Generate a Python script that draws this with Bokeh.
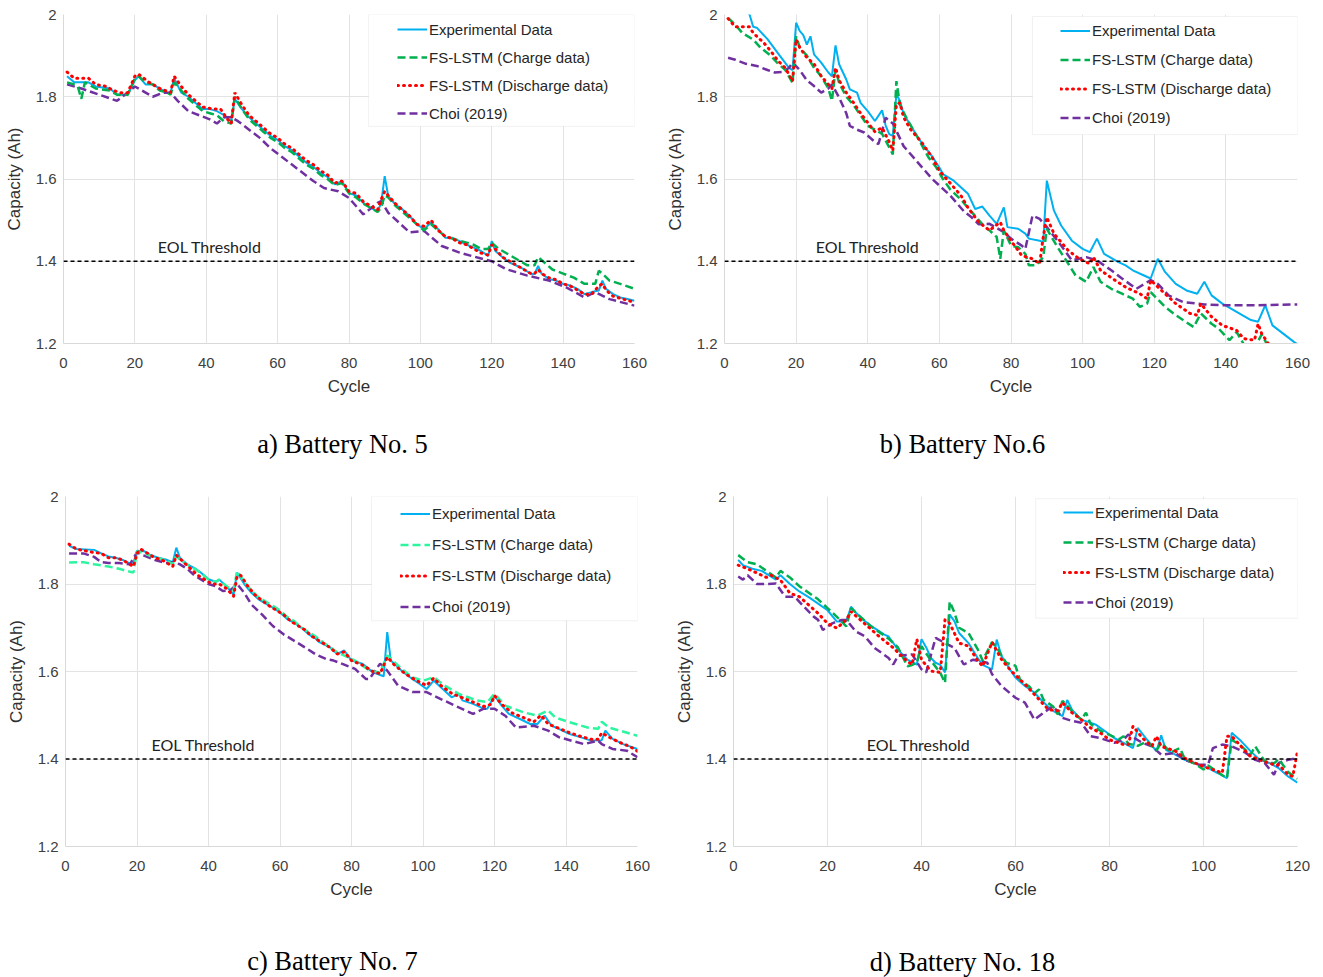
from bokeh.plotting import figure
from bokeh.models import (Span, Label, Legend, LegendItem, BoxAnnotation,
                          FixedTicker, NumeralTickFormatter, Range1d)
from bokeh.layouts import column, row
from bokeh.embed import file_html
from bokeh.resources import INLINE

# ---------------- data (cycle, capacity Ah) ----------------
EOL_THRESHOLD = 1.4
Y_TICKS = [1.2, 1.4, 1.6, 1.8, 2.0]
X_TICKS_160 = [0, 20, 40, 60, 80, 100, 120, 140, 160]
X_TICKS_120 = [0, 20, 40, 60, 80, 100, 120]
LEGEND_LABELS = ["Experimental Data", "FS-LSTM (Charge data)",
                 "FS-LSTM (Discharge data)", "Choi (2019)"]
CAPTIONS = ["a) Battery No. 5", "b) Battery No.6", "c) Battery No. 7", "d) Battery No. 18"]

# Battery 5
B5_EXP = [(1,1.85),(3,1.835),(7,1.835),(9,1.825),(13,1.82),(15,1.805),(18,1.805),(20,1.84),(21,1.85),(23,1.83),
          (25,1.83),(27,1.82),(29,1.81),(30,1.81),(31,1.845),(33,1.81),(35,1.80),(37,1.785),(39,1.77),(41,1.77),
          (43,1.765),(45,1.755),(47,1.74),(48,1.795),(50,1.77),(52,1.75),(54,1.735),(56,1.72),(58,1.705),(60,1.695),
          (62,1.68),(64,1.67),(66,1.655),(68,1.64),(70,1.63),(72,1.615),(74,1.605),(76,1.587),(78,1.595),(80,1.566),
          (82,1.56),(84,1.542),(86,1.53),(88,1.522),(89,1.54),(90,1.607),(91,1.558),(93,1.538),(95,1.526),(97,1.51),
          (99,1.49),(101,1.478),(103,1.494),(105,1.478),(107,1.457),(109,1.457),(111,1.449),(113,1.44),(115,1.433),(117,1.425),
          (119,1.413),(120,1.449),(121,1.425),(123,1.41),(125,1.397),(127,1.389),(129,1.381),(131,1.369),(132,1.369),(133,1.389),
          (134,1.369),(136,1.357),(138,1.353),(140,1.345),(142,1.341),(144,1.333),(146,1.32),(148,1.325),(150,1.329),(151,1.353),
          (152,1.333),(154,1.32),(156,1.312),(158,1.308),(160,1.304)]
B5_CHG = [(1,1.835),(3,1.83),(4,1.825),(5,1.795),(6,1.835),(9,1.82),(13,1.815),(15,1.805),(18,1.805),(20,1.845),
          (21,1.85),(23,1.835),(25,1.83),(27,1.815),(29,1.81),(30,1.805),(31,1.835),(33,1.815),(35,1.795),(37,1.78),
          (39,1.765),(41,1.76),(43,1.755),(45,1.74),(47,1.735),(48,1.80),(50,1.77),(52,1.745),(54,1.73),(56,1.715),
          (58,1.70),(60,1.69),(62,1.675),(64,1.665),(66,1.65),(68,1.635),(70,1.625),(72,1.61),(74,1.60),(76,1.585),
          (78,1.59),(80,1.565),(82,1.555),(84,1.54),(86,1.53),(88,1.52),(89,1.53),(90,1.56),(91,1.555),(93,1.535),
          (95,1.52),(97,1.505),(99,1.49),(101,1.475),(103,1.49),(105,1.475),(107,1.46),(109,1.455),(111,1.45),(113,1.445),
          (115,1.44),(117,1.43),(119,1.43),(120,1.445),(122,1.43),(125,1.415),(128,1.40),(130,1.39),(132,1.39),(133,1.41),
          (135,1.395),(137,1.38),(140,1.37),(143,1.36),(146,1.345),(149,1.345),(150,1.377),(151,1.37),(153,1.353),(156,1.345),
          (160,1.333)]
B5_DIS = [(1,1.86),(3,1.845),(7,1.845),(9,1.83),(12,1.825),(14,1.815),(16,1.81),(18,1.81),(20,1.85),(21,1.855),
          (24,1.835),(27,1.82),(30,1.81),(31,1.85),(33,1.825),(35,1.805),(37,1.79),(39,1.775),(42,1.77),(44,1.77),
          (46,1.745),(47,1.735),(48,1.81),(50,1.78),(52,1.755),(54,1.74),(56,1.725),(58,1.71),(60,1.70),(62,1.685),
          (64,1.675),(66,1.66),(68,1.645),(70,1.635),(72,1.62),(74,1.61),(76,1.59),(78,1.595),(80,1.57),(82,1.565),
          (84,1.545),(86,1.535),(88,1.525),(89,1.55),(90,1.57),(91,1.56),(93,1.54),(95,1.525),(97,1.51),(99,1.49),
          (101,1.485),(103,1.50),(105,1.475),(107,1.46),(109,1.455),(111,1.445),(113,1.44),(115,1.43),(117,1.42),(119,1.415),
          (120,1.44),(121,1.43),(123,1.41),(125,1.40),(127,1.39),(129,1.38),(131,1.37),(132,1.37),(133,1.38),(134,1.37),
          (136,1.36),(138,1.355),(140,1.345),(142,1.34),(144,1.33),(146,1.32),(148,1.32),(150,1.34),(151,1.345),(152,1.33),
          (154,1.315),(156,1.31),(158,1.305),(160,1.30)]
B5_CHOI = [(1,1.83),(5,1.82),(10,1.805),(15,1.79),(18,1.81),(20,1.825),(23,1.81),(25,1.80),(28,1.81),(30,1.81),
           (32,1.79),(35,1.765),(38,1.755),(41,1.745),(43,1.735),(45,1.75),(47,1.75),(49,1.74),(52,1.72),(55,1.70),
           (58,1.675),(61,1.655),(64,1.635),(67,1.615),(70,1.595),(73,1.578),(77,1.57),(80,1.554),(84,1.514),(88,1.542),
           (89,1.546),(91,1.518),(97,1.47),(101,1.474),(106,1.437),(111,1.421),(116,1.409),(120,1.40),(124,1.381),(130,1.365),
           (136,1.353),(141,1.336),(146,1.312),(149,1.325),(153,1.308),(160,1.292)]

# Battery 6
B6_EXP = [(1,2.035),(4,2.025),(6,2.01),(7,2.0),(8,1.97),(9,1.968),(12,1.94),(15,1.905),(18,1.87),(19,1.865),
          (20,1.98),(21,1.96),(22,1.95),(23,1.927),(24,1.947),(25,1.903),(27,1.883),(29,1.859),(30,1.85),(31,1.925),
          (32,1.879),(34,1.842),(35,1.818),(37,1.81),(38,1.785),(40,1.765),(42,1.741),(44,1.767),(45,1.73),(46,1.709),
          (47,1.705),(48,1.806),(49,1.79),(50,1.758),(52,1.73),(54,1.701),(56,1.677),(58,1.655),(60,1.628),(61,1.612),
          (64,1.596),(68,1.564),(70,1.527),(72,1.533),(74,1.511),(76,1.491),(78,1.531),(79,1.483),(82,1.479),(84,1.467),
          (85,1.455),(88,1.45),(89,1.446),(90,1.596),(92,1.523),(94,1.487),(97,1.45),(100,1.43),(102,1.422),(104,1.455),
          (106,1.418),(110,1.398),(112,1.39),(114,1.378),(117,1.366),(119,1.358),(121,1.406),(123,1.374),(126,1.345),(129,1.329),
          (132,1.321),(134,1.35),(136,1.317),(139,1.297),(143,1.277),(147,1.257),(149,1.253),(151,1.293),(153,1.244),(156,1.224),
          (159,1.204),(160,1.198)]
B6_CHG = [(1,1.992),(3,1.975),(5,1.955),(8,1.939),(10,1.92),(13,1.899),(15,1.88),(17,1.865),(19,1.834),(20,1.947),
          (21,1.92),(23,1.90),(25,1.87),(27,1.85),(29,1.82),(30,1.79),(31,1.867),(32,1.834),(34,1.80),(36,1.78),
          (38,1.755),(40,1.729),(42,1.72),(44,1.71),(46,1.677),(47,1.66),(48,1.838),(49,1.78),(51,1.745),(54,1.70),
          (57,1.652),(59,1.63),(61,1.60),(63,1.575),(66,1.55),(69,1.52),(72,1.49),(74,1.475),(76,1.459),(77,1.406),
          (78,1.475),(80,1.438),(82,1.434),(84,1.418),(85,1.39),(87,1.39),(89,1.41),(90,1.479),(93,1.434),(96,1.394),
          (98,1.366),(101,1.35),(103,1.386),(105,1.35),(108,1.333),(111,1.321),(114,1.309),(116,1.289),(118,1.297),(119,1.325),
          (123,1.289),(126,1.269),(131,1.24),(133,1.273),(136,1.248),(138,1.236),(141,1.208),(143,1.228),(145,1.198),(148,1.19),
          (150,1.222),(152,1.19)]
B6_DIS = [(1,1.99),(3,1.97),(7,1.97),(8,1.955),(11,1.931),(13,1.91),(15,1.887),(17,1.87),(19,1.838),(20,1.939),
          (21,1.92),(23,1.895),(25,1.88),(27,1.85),(29,1.83),(30,1.82),(31,1.871),(32,1.84),(34,1.81),(36,1.786),
          (38,1.76),(40,1.737),(42,1.715),(44,1.725),(46,1.69),(47,1.669),(48,1.782),(49,1.785),(50,1.75),(52,1.72),
          (55,1.69),(58,1.652),(60,1.62),(63,1.59),(66,1.56),(68,1.53),(71,1.495),(74,1.475),(77,1.495),(78,1.475),
          (80,1.45),(83,1.414),(86,1.406),(88,1.394),(89,1.459),(90,1.507),(92,1.467),(96,1.426),(99,1.406),(102,1.394),
          (103,1.41),(105,1.378),(109,1.354),(112,1.337),(116,1.321),(118,1.309),(119,1.354),(123,1.321),(126,1.297),(130,1.273),
          (132,1.269),(133,1.297),(136,1.265),(139,1.244),(143,1.232),(145,1.212),(148,1.208),(149,1.248),(150,1.224),(152,1.198)]
B6_CHOI = [(1,1.895),(3,1.89),(6,1.88),(9,1.875),(12,1.865),(14,1.859),(16,1.86),(18,1.87),(19,1.883),(21,1.865),
           (23,1.84),(25,1.826),(27,1.81),(29,1.82),(30,1.83),(32,1.798),(34,1.76),(35,1.729),(37,1.72),(39,1.713),
           (42,1.69),(43,1.685),(45,1.749),(47,1.735),(48,1.717),(50,1.68),(53,1.65),(56,1.62),(58,1.60),(61,1.576),
           (63,1.56),(65,1.54),(67,1.52),(69,1.507),(71,1.49),(74,1.491),(78,1.471),(80,1.455),(83,1.438),(84,1.43),
           (86,1.511),(88,1.503),(90,1.483),(93,1.45),(97,1.402),(101,1.41),(104,1.402),(108,1.378),(111,1.358),(115,1.333),
           (119,1.354),(121,1.345),(124,1.317),(128,1.301),(134,1.295),(139,1.293),(149,1.293),(160,1.295)]

# Battery 7
B7_EXP = [(1,1.887),(3,1.88),(8,1.878),(10,1.87),(12,1.863),(14,1.86),(16,1.855),(18,1.847),(19,1.848),(20,1.876),
          (22,1.875),(24,1.865),(26,1.86),(28,1.856),(30,1.85),(31,1.883),(32,1.86),(34,1.845),(36,1.837),(38,1.825),
          (40,1.811),(42,1.805),(43,1.81),(45,1.795),(47,1.776),(48,1.826),(50,1.80),(52,1.78),(54,1.765),(56,1.755),
          (58,1.746),(60,1.735),(62,1.72),(64,1.711),(66,1.70),(68,1.685),(70,1.675),(71,1.667),(74,1.655),(76,1.64),
          (78,1.648),(80,1.625),(83,1.618),(86,1.598),(89,1.589),(90,1.69),(91,1.625),(94,1.602),(97,1.583),(99,1.572),
          (101,1.56),(103,1.579),(105,1.564),(108,1.541),(110,1.549),(111,1.534),(114,1.526),(117,1.515),(118,1.515),(120,1.545),
          (122,1.522),(124,1.503),(127,1.492),(130,1.48),(132,1.48),(134,1.499),(136,1.476),(138,1.469),(141,1.457),(144,1.45),
          (147,1.442),(150,1.443),(151,1.465),(153,1.446),(156,1.434),(160,1.423)]
B7_CHG = [(1,1.849),(5,1.85),(8,1.845),(12,1.84),(15,1.835),(17,1.83),(19,1.826),(20,1.875),(22,1.87),(25,1.86),
          (28,1.855),(30,1.845),(31,1.865),(32,1.855),(35,1.84),(38,1.825),(40,1.81),(42,1.805),(43,1.81),(45,1.795),
          (47,1.785),(48,1.83),(50,1.805),(52,1.785),(54,1.77),(56,1.76),(58,1.75),(60,1.74),(62,1.725),(64,1.715),
          (66,1.70),(68,1.69),(70,1.68),(72,1.667),(76,1.644),(81,1.625),(85,1.602),(88,1.598),(90,1.637),(94,1.606),
          (97,1.587),(100,1.579),(103,1.587),(106,1.568),(110,1.549),(115,1.534),(118,1.53),(120,1.549),(123,1.522),(128,1.507),
          (132,1.499),(135,1.511),(137,1.495),(141,1.484),(146,1.472),(149,1.469),(150,1.485),(152,1.472),(160,1.453)]
B7_DIS = [(1,1.891),(3,1.88),(6,1.875),(8,1.872),(10,1.87),(12,1.86),(14,1.86),(16,1.855),(18,1.845),(19,1.84),
          (20,1.87),(21,1.88),(23,1.87),(25,1.86),(27,1.855),(29,1.845),(30,1.84),(31,1.866),(33,1.85),(35,1.835),
          (37,1.82),(39,1.81),(41,1.80),(43,1.80),(45,1.79),(47,1.772),(48,1.818),(49,1.82),(51,1.795),(53,1.775),
          (55,1.762),(57,1.75),(59,1.74),(61,1.73),(63,1.715),(65,1.705),(67,1.695),(69,1.68),(71,1.67),(74,1.655),
          (76,1.64),(78,1.645),(80,1.625),(83,1.615),(86,1.60),(88,1.595),(90,1.633),(92,1.615),(95,1.595),(98,1.58),
          (101,1.568),(103,1.585),(105,1.568),(108,1.55),(111,1.54),(114,1.53),(117,1.52),(119,1.525),(120,1.545),(122,1.525),
          (125,1.505),(128,1.495),(131,1.485),(133,1.50),(135,1.48),(138,1.47),(141,1.46),(144,1.452),(147,1.445),(149,1.445),
          (150,1.46),(152,1.45),(155,1.438),(158,1.428),(160,1.418)]
B7_CHOI = [(1,1.87),(5,1.87),(8,1.862),(10,1.85),(12,1.848),(15,1.848),(18,1.845),(20,1.872),(22,1.865),(25,1.855),
           (28,1.848),(30,1.85),(32,1.845),(34,1.835),(36,1.82),(38,1.81),(40,1.80),(42,1.795),(44,1.784),(46,1.785),
           (48,1.80),(50,1.78),(52,1.753),(55,1.73),(58,1.704),(61,1.685),(64,1.67),(67,1.655),(70,1.639),(73,1.628),
           (75,1.625),(81,1.606),(84,1.583),(85,1.583),(88,1.618),(90,1.602),(93,1.568),(97,1.553),(101,1.553),(105,1.537),
           (110,1.518),(114,1.503),(117,1.515),(120,1.515),(123,1.499),(126,1.472),(131,1.476),(135,1.465),(138,1.45),(145,1.434),
           (149,1.442),(150,1.434),(153,1.423),(157,1.419),(160,1.404)]

# Battery 18
B18_EXP = [(1,1.855),(2,1.843),(4,1.835),(6,1.83),(8,1.817),(9,1.81),(10,1.82),(12,1.80),(14,1.783),(16,1.77),
           (18,1.755),(20,1.74),(22,1.714),(24,1.715),(25,1.748),(26,1.735),(28,1.715),(30,1.699),(32,1.685),(33,1.68),
           (35,1.65),(37,1.627),(39,1.616),(40,1.674),(41,1.655),(42,1.631),(43,1.62),(44,1.615),(45,1.598),(46,1.73),
           (47,1.715),(48,1.688),(50,1.665),(52,1.63),(53,1.615),(55,1.605),(56,1.673),(57,1.636),(59,1.602),(60,1.586),
           (62,1.567),(64,1.552),(66,1.529),(68,1.51),(70,1.498),(71,1.535),(72,1.513),(74,1.49),(77,1.479),(79,1.464),
           (81,1.448),(83,1.437),(85,1.425),(86,1.471),(88,1.444),(90,1.418),(91,1.454),(92,1.421),(94,1.41),(96,1.398),
           (99,1.387),(101,1.379),(103,1.368),(105,1.356),(106,1.46),(108,1.441),(110,1.418),(112,1.398),(114,1.391),(116,1.379),
           (118,1.36),(120,1.346)]
B18_CHG = [(1,1.866),(3,1.85),(5,1.845),(7,1.83),(9,1.815),(10,1.83),(12,1.815),(14,1.795),(16,1.78),(18,1.765),
           (20,1.745),(22,1.725),(24,1.703),(25,1.745),(27,1.725),(29,1.705),(31,1.69),(33,1.675),(35,1.655),(37,1.612),
           (38,1.615),(39,1.62),(40,1.658),(42,1.625),(44,1.597),(45,1.574),(46,1.76),(47,1.735),(48,1.70),(50,1.688),
           (52,1.65),(53,1.625),(55,1.667),(56,1.655),(58,1.62),(60,1.613),(61,1.58),(63,1.565),(64,1.55),(65,1.559),
           (66,1.535),(68,1.52),(69,1.502),(70,1.533),(72,1.51),(74,1.49),(75,1.506),(76,1.48),(78,1.465),(80,1.455),
           (82,1.445),(83,1.452),(84,1.435),(86,1.43),(88,1.44),(90,1.42),(91,1.437),(93,1.415),(95,1.425),(96,1.40),
           (98,1.39),(100,1.376),(101,1.385),(103,1.37),(105,1.356),(106,1.444),(108,1.43),(110,1.41),(111,1.429),(113,1.395),
           (115,1.39),(116,1.40),(118,1.37),(120,1.355)]
B18_DIS = [(1,1.843),(3,1.835),(5,1.825),(7,1.815),(8,1.82),(10,1.809),(12,1.779),(14,1.771),(16,1.752),(18,1.733),
           (20,1.71),(22,1.699),(24,1.718),(25,1.737),(27,1.718),(29,1.699),(31,1.68),(34,1.654),(37,1.623),(38,1.616),
           (39,1.674),(40,1.627),(42,1.601),(44,1.598),(45,1.718),(46,1.71),(48,1.665),(50,1.658),(52,1.624),(53,1.612),
           (55,1.667),(57,1.628),(59,1.602),(62,1.571),(65,1.536),(67,1.513),(69,1.51),(70,1.529),(72,1.506),(74,1.49),
           (76,1.471),(78,1.46),(80,1.444),(83,1.433),(84,1.433),(85,1.475),(87,1.448),(89,1.429),(90,1.452),(91,1.429),
           (94,1.418),(96,1.402),(99,1.387),(101,1.379),(103,1.372),(104,1.368),(105,1.452),(106,1.452),(108,1.429),(110,1.406),
           (113,1.394),(115,1.387),(116,1.387),(118,1.364),(119,1.36),(120,1.418)]
B18_CHOI = [(1,1.817),(2,1.81),(3,1.82),(5,1.80),(7,1.80),(9,1.801),(11,1.771),(13,1.771),(15,1.748),(17,1.726),
            (18,1.718),(19,1.695),(21,1.71),(23,1.718),(24,1.718),(26,1.692),(28,1.68),(30,1.654),(33,1.631),(34,1.616),
            (35,1.636),(38,1.639),(40,1.605),(41,1.598),(43,1.677),(45,1.665),(47,1.654),(49,1.616),(51,1.627),(54,1.62),
            (55,1.594),(57,1.567),(60,1.54),(62,1.529),(64,1.49),(66,1.506),(68,1.521),(70,1.494),(72,1.487),(74,1.483),
            (76,1.452),(78,1.448),(81,1.437),(83,1.444),(84,1.456),(87,1.437),(89,1.429),(91,1.41),(94,1.414),(96,1.398),
            (99,1.387),(101,1.387),(102,1.425),(104,1.433),(106,1.429),(109,1.414),(111,1.398),(113,1.391),(115,1.364),(116,1.391),
            (118,1.398),(120,1.402)]

# ---------------- styling ----------------
C_EXP = "#00B0F0"
C_CHG = "#00B050"
C_CHG_MINT = "#2CF5A0"
C_DIS = "#FF0000"
C_CHOI = "#7030A0"
GRID = "#e3e3e3"
SANS = "Liberation Sans"

PANELS = [
    dict(series=(B5_EXP, B5_CHG, B5_DIS, B5_CHOI), chg_color=C_CHG, xmax=160, xticks=X_TICKS_160,
         width=661, height=410, left=63, right=27, top=14, bottom=67,
         leg_x=334, leg_y=216, row_h=28, box=(85.5, 160, 1.728, 2.0), eol_x=41),
    dict(series=(B6_EXP, B6_CHG, B6_DIS, B6_CHOI), chg_color=C_CHG, xmax=160, xticks=X_TICKS_160,
         width=662, height=410, left=63, right=26, top=14, bottom=67,
         leg_x=336, leg_y=211, row_h=29, box=(86, 160, 1.708, 1.995), eol_x=40),
    dict(series=(B7_EXP, B7_CHG, B7_DIS, B7_CHOI), chg_color=C_CHG_MINT, xmax=160, xticks=X_TICKS_160,
         width=661, height=425, left=65, right=24, top=16, bottom=59,
         leg_x=335, leg_y=224, row_h=31, box=(85.6, 160, 1.716, 2.0), eol_x=38.6),
    dict(series=(B18_EXP, B18_CHG, B18_DIS, B18_CHOI), chg_color=C_CHG, xmax=120, xticks=X_TICKS_120,
         width=662, height=425, left=72, right=26, top=16, bottom=59,
         leg_x=330, leg_y=229, row_h=30, box=(64.3, 120, 1.722, 1.995), eol_x=39.4),
]

# caption strips: (width, height, text centre x, text centre y measured up from strip bottom)
CAPTION_STRIPS = [(661, 70, 342, 37), (662, 70, 301, 37), (661, 72, 332, 17), (662, 72, 301, 16)]


def xy(pairs):
    return [a for a, _ in pairs], [b for _, b in pairs]


def make_panel(cfg):
    p = figure(width=cfg["width"], height=cfg["height"],
               x_range=Range1d(0, cfg["xmax"]), y_range=Range1d(1.2, 2.0),
               output_backend="svg", toolbar_location=None,
               min_border_left=cfg["left"], min_border_right=cfg["right"],
               min_border_top=cfg["top"], min_border_bottom=cfg["bottom"],
               background_fill_color="white", border_fill_color="white")
    p.outline_line_color = None

    p.xaxis.ticker = FixedTicker(ticks=cfg["xticks"])
    p.yaxis.ticker = FixedTicker(ticks=Y_TICKS)
    p.yaxis.formatter = NumeralTickFormatter(format="0.[0]")
    for ax in (p.xaxis, p.yaxis):
        ax.major_tick_line_color = None
        ax.minor_tick_line_color = None
        ax.major_tick_out = 0
        ax.major_tick_in = 0
        ax.minor_tick_out = 0
        ax.axis_line_color = "#d9d9d9"
        ax.major_label_text_font = SANS
        ax.major_label_text_font_size = "15px"
        ax.major_label_text_color = "#404040"
        ax.axis_label_text_font = SANS
        ax.axis_label_text_font_size = "17px"
        ax.axis_label_text_font_style = "normal"
        ax.axis_label_text_color = "#303030"
    p.xaxis.axis_label = "Cycle"
    p.yaxis.axis_label = "Capacity (Ah)"
    p.xaxis.major_label_standoff = 14
    p.xaxis.axis_label_standoff = 6
    p.yaxis.major_label_standoff = 7
    p.yaxis.axis_label_standoff = 9

    p.xgrid.ticker = FixedTicker(ticks=cfg["xticks"])
    p.ygrid.ticker = FixedTicker(ticks=Y_TICKS)
    p.xgrid.grid_line_color = GRID
    p.ygrid.grid_line_color = GRID

    exp, chg, dis, choi = cfg["series"]
    x, y = xy(exp)
    r_exp = p.line(x, y, line_color=C_EXP, line_width=2)
    x, y = xy(choi)
    r_choi = p.line(x, y, line_color=C_CHOI, line_width=2.5, line_dash="8 4")
    x, y = xy(chg)
    r_chg = p.line(x, y, line_color=cfg["chg_color"], line_width=2.5, line_dash="8 4")
    x, y = xy(dis)
    r_dis = p.line(x, y, line_color=C_DIS, line_width=3, line_dash="1 5", line_cap="round")

    p.add_layout(Span(location=EOL_THRESHOLD, dimension="width", line_color="black",
                      line_width=1.5, line_dash="4 3"))
    p.add_layout(Label(x=cfg["eol_x"], y=EOL_THRESHOLD, y_offset=5, text="EOL Threshold",
                       text_align="center", text_baseline="bottom", text_font="Lato",
                       text_font_size="16px", text_color="#222222"))

    bl, br, bb, bt = cfg["box"]
    p.add_layout(BoxAnnotation(left=bl, right=br, bottom=bb, top=bt, fill_color="white",
                               fill_alpha=1.0, line_color="#cfcfcf", line_width=1))
    legend = Legend(items=[LegendItem(label=LEGEND_LABELS[0], renderers=[r_exp]),
                           LegendItem(label=LEGEND_LABELS[1], renderers=[r_chg]),
                           LegendItem(label=LEGEND_LABELS[2], renderers=[r_dis]),
                           LegendItem(label=LEGEND_LABELS[3], renderers=[r_choi])],
                    location=(cfg["leg_x"], cfg["leg_y"]), padding=0, spacing=0, margin=0,
                    glyph_width=30, glyph_height=cfg["row_h"], label_height=cfg["row_h"],
                    label_standoff=2, label_text_font=SANS, label_text_font_size="15px",
                    label_text_color="#262626", border_line_alpha=0, background_fill_alpha=0)
    p.add_layout(legend)
    return p


def make_caption(text, strip):
    w, h, cx, cy = strip
    c = figure(width=w, height=h, x_range=Range1d(0, w), y_range=Range1d(0, h),
               output_backend="svg", toolbar_location=None,
               x_axis_location=None, y_axis_location=None, min_border=0,
               background_fill_color="white", border_fill_color="white")
    c.outline_line_color = None
    c.grid.visible = False
    c.add_layout(Label(x=cx, y=cy, x_units="screen", y_units="screen", text=text,
                       text_align="center", text_baseline="middle",
                       text_font="Liberation Serif", text_font_size="26.5px",
                       text_color="black"))
    return c


figs = [make_panel(c) for c in PANELS]
caps = [make_caption(t, s) for t, s in zip(CAPTIONS, CAPTION_STRIPS)]
layout = column(row(figs[0], figs[1], spacing=0), row(caps[0], caps[1], spacing=0),
                row(figs[2], figs[3], spacing=0), row(caps[2], caps[3], spacing=0), spacing=0)

with open("out.html", "w") as f:
    f.write(file_html(layout, INLINE))
